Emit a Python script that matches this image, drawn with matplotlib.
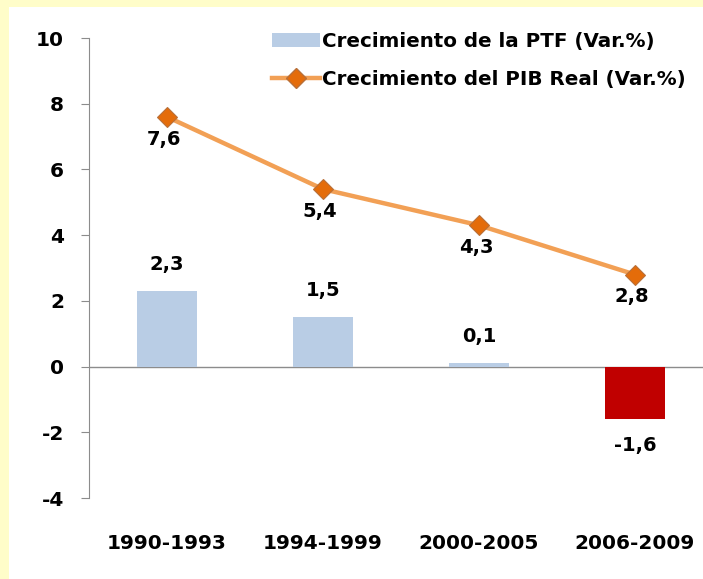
import matplotlib
matplotlib.use("Agg")
import matplotlib.pyplot as plt
from matplotlib.patches import Rectangle
from matplotlib.lines import Line2D

periods = ["1990-1993", "1994-1999", "2000-2005", "2006-2009"]
ptf_growth = [2.3, 1.5, 0.1, -1.6]
gdp_growth = [7.6, 5.4, 4.3, 2.8]
ptf_label = "Crecimiento de la PTF (Var.%)"
gdp_label = "Crecimiento del PIB Real (Var.%)"
y_ticks = [-4, -2, 0, 2, 4, 6, 8, 10]

plt.rcParams['font.family'] = ['DejaVu Sans']
plt.rcParams['font.weight'] = 'bold'
plt.rcParams['axes.unicode_minus'] = False

fig = plt.figure(figsize=(7.03, 5.79), dpi=100, facecolor="#FFFDC9")
# white panel inside the yellow frame
fig.patches.append(Rectangle((9/703, 0), 1, 1 - 7/579, transform=fig.transFigure,
                             facecolor="white", edgecolor="none", zorder=-5))

ax = fig.add_axes([89/703, 81/579, 624/703, 460/579])
ax.set_zorder(2)
ax.set_facecolor("none")

x = list(range(len(periods)))
bar_colors = ["#B9CDE5" if v >= 0 else "#C00000" for v in ptf_growth]
ax.bar(x, ptf_growth, width=0.39, color=bar_colors, zorder=2)
ax.plot(x, gdp_growth, color="#F2A055", lw=3.2, marker="D", markersize=10,
        markerfacecolor="#E46C0A", markeredgecolor="#B8703A", markeredgewidth=0.8, zorder=3)

for xi, v in zip(x, ptf_growth):
    off = 19 if v >= 0 else -19
    ax.annotate(f"{v:.1f}".replace(".", ","), (xi, v), xytext=(0, off), textcoords="offset points",
                ha="center", va="center", fontsize=14, fontweight="bold")
for xi, v in zip(x, gdp_growth):
    ax.annotate(f"{v:.1f}".replace(".", ","), (xi, v), xytext=(-2, -16), textcoords="offset points",
                ha="center", va="center", fontsize=14, fontweight="bold")

ax.axhline(0, color="#8C8C8C", lw=1, zorder=1)
ax.set_xlim(-0.5, 3.5)
ax.set_ylim(-4, 10)
ax.set_yticks(y_ticks)
ax.set_xticks(x)
ax.set_xticklabels(periods)
for s in ["top", "right", "bottom"]:
    ax.spines[s].set_visible(False)
ax.spines["left"].set_color("#8C8C8C")
ax.tick_params(axis="y", length=6, color="#8C8C8C", pad=12, labelsize=14.5)
ax.tick_params(axis="x", length=0, pad=26, labelsize=14.5)

handles = [Rectangle((0, 0), 1, 1, facecolor="#B9CDE5"),
           Line2D([], [], color="#F2A055", lw=3.2, marker="D", markersize=10,
                  markerfacecolor="#E46C0A", markeredgecolor="#B8703A")]
fig.legend(handles, [ptf_label, gdp_label], loc="upper left", bbox_to_anchor=(264/703, 1 - 24/579),
           frameon=False, fontsize=14.3, handlelength=2.4, handletextpad=0.1, labelspacing=0.95,
           borderaxespad=0)

fig.savefig("out.png", dpi=100, facecolor=fig.get_facecolor())
